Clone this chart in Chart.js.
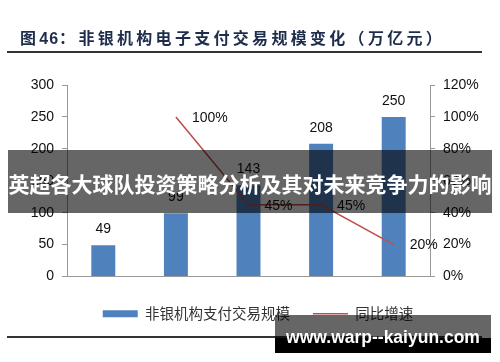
<!DOCTYPE html>
<html>
<head>
<meta charset="utf-8">
<script src="https://cdn.jsdelivr.net/npm/chart.js@4.4.1/dist/chart.umd.min.js"></script>
<style>
  html, body { margin: 0; padding: 0; background: #fff; }
  #wrap { position: relative; width: 500px; height: 362px; overflow: hidden; }
  #c { position: absolute; left: 0; top: 0; }
  .title {
    position: absolute; left: 20px; top: 27px; height: 20px; line-height: 20px;
    font-family: "Noto Sans CJK SC", sans-serif; font-weight: 700; font-size: 16px;
    letter-spacing: 3.3px; color: #1f2d4d; white-space: nowrap;
  }
  .title b { font-family: "Liberation Sans", Arial, sans-serif; letter-spacing: 1px; }
  .rule { position: absolute; left: 7px; width: 475px; height: 2px; background: #333; }
  .banner {
    position: absolute; left: 8px; top: 150px; width: 484px; height: 63px;
    background: rgba(0,0,0,0.6); color: #fff; text-align: center;
    font-family: "Noto Sans CJK SC", sans-serif; font-weight: 700; font-size: 21px;
    line-height: 66px; white-space: nowrap;
  }
  .mark {
    position: absolute; left: 275px; top: 315px; width: 216px; height: 38px;
    background: linear-gradient(to bottom, rgba(0,0,0,0.6) 0, rgba(0,0,0,0.6) 60%, #000 60%, #000 100%);
    color: #fff; text-align: center; font-family: "Liberation Sans", Arial, sans-serif;
    font-weight: 700; font-size: 17.5px; line-height: 44px; white-space: nowrap;
  }
</style>
</head>
<body>
<div id="wrap">
  <canvas id="c" width="500" height="362"></canvas>
  <div class="title">图<b>46</b>：非银机构电子支付交易规模变化（万亿元）</div>
  <div class="rule" style="top:51px"></div>
  <div class="rule" style="top:336px"></div>
  <div class="banner">英超各大球队投资策略分析及其对未来竞争力的影响</div>
  <div class="mark">www.warp--kaiyun.com</div>
</div>
<script>
var years = ['2015', '2016', '2017', '2018', '2019'];
var scaleValues = [49, 99, 143, 208, 250];
var growthValues = [null, 1.00, 0.45, 0.45, 0.20];
var leftTicks = [0, 50, 100, 150, 200, 250, 300];
var rightTicks = [0, 0.2, 0.4, 0.6, 0.8, 1.0, 1.2];
var seriesNames = ['非银机构支付交易规模', '同比增速'];

var tickFont = { family: '"Liberation Sans", Arial, sans-serif', size: 14 };

// value labels over bars and beside the line
var valueLabels = {
  id: 'valueLabels',
  afterDatasetsDraw: function(chart) {
    var ctx = chart.ctx;
    ctx.save();
    ctx.font = '14px "Liberation Sans", Arial, sans-serif';
    ctx.fillStyle = '#111';
    ctx.textBaseline = 'middle';

    var bars = chart.getDatasetMeta(0).data;
    ctx.textAlign = 'center';
    for (var i = 0; i < bars.length; i++) {
      ctx.fillText(scaleValues[i], bars[i].x, bars[i].y - 16);
    }

    var pts = chart.getDatasetMeta(1).data;
    ctx.textAlign = 'left';
    for (var j = 0; j < pts.length; j++) {
      if (growthValues[j] == null) continue;
      ctx.fillText(Math.round(growthValues[j] * 100) + '%', pts[j].x + 16, pts[j].y + 1);
    }
    ctx.restore();
  }
};

var ctx = document.getElementById('c').getContext('2d');
var chartObj = new Chart(ctx, {
  type: 'bar',
  data: {
    labels: years,
    datasets: [{
      label: seriesNames[0],
      data: scaleValues,
      backgroundColor: '#4f81bd',
      borderWidth: 0,
      yAxisID: 'y',
      order: 2,
      pointStyle: 'rect',
      categoryPercentage: 1,
      barPercentage: 0.33
    }, {
      type: 'line',
      label: seriesNames[1],
      data: growthValues,
      borderColor: '#c0504d',
      backgroundColor: '#c0504d',
      borderWidth: 1.6,
      pointRadius: 0,
      pointStyle: 'line',
      tension: 0,
      yAxisID: 'y1',
      order: 1
    }]
  },
  options: {
    responsive: false,
    animation: false,
    events: [],
    // left padding + narrower left axis keeps the axis at x=67 but nudges the legend right
    layout: { padding: { top: 85, left: 16, right: 0, bottom: 31 } },
    plugins: {
      title: { display: false },
      tooltip: { enabled: false },
      legend: {
        position: 'bottom',
        labels: {
          usePointStyle: true,
          pointStyleWidth: 35,
          boxHeight: 7,
          padding: 23,
          color: '#333',
          font: { family: '"Noto Sans CJK SC", sans-serif', size: 14.5 },
          sort: function(a, b) { return a.datasetIndex - b.datasetIndex; }
        }
      }
    },
    scales: {
      x: {
        grid: { display: true, drawOnChartArea: false, drawTicks: false },
        border: { display: true, color: '#999', width: 1 },
        ticks: { color: '#111', font: tickFont, padding: 8 },
        afterFit: function(scale) { scale.height = 7; }
      },
      y: {
        position: 'left',
        min: 0,
        max: 300,
        afterBuildTicks: function(scale) {
          scale.ticks = leftTicks.map(function(v) { return { value: v }; });
        },
        grid: { drawOnChartArea: false, drawTicks: true, tickLength: 5, color: '#999' },
        border: { display: true, color: '#999', width: 1 },
        ticks: { color: '#111', font: tickFont, padding: 8 },
        afterFit: function(scale) { scale.width = 51; }
      },
      y1: {
        position: 'right',
        min: 0,
        max: 1.2,
        afterBuildTicks: function(scale) {
          scale.ticks = rightTicks.map(function(v) { return { value: v }; });
        },
        grid: { drawOnChartArea: false, drawTicks: true, tickLength: 5, color: '#999' },
        border: { display: true, color: '#999', width: 1 },
        ticks: {
          color: '#111',
          font: tickFont,
          padding: 8,
          callback: function(v) { return Math.round(v * 100) + '%'; }
        },
        afterFit: function(scale) { scale.width = 70; }
      }
    }
  },
  plugins: [valueLabels]
});
</script>
</body>
</html>
